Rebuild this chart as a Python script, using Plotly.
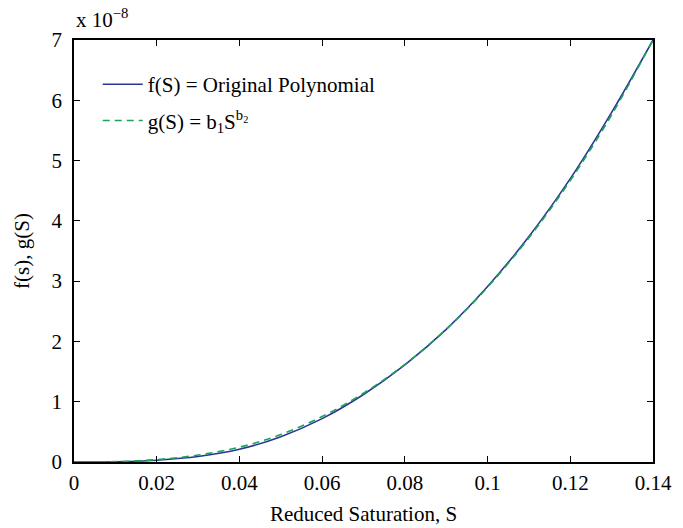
import plotly.graph_objects as go

S = [0.0, 0.01, 0.02, 0.03, 0.04, 0.05, 0.06, 0.07, 0.08, 0.09, 0.10, 0.11, 0.12, 0.13, 0.14]
f_vals = [0.0, 0.003, 0.03, 0.09, 0.21, 0.42, 0.72, 1.12, 1.61, 2.20, 2.91, 3.74, 4.70, 5.80, 7.00]
g_vals = [0.0, 0.006, 0.04, 0.115, 0.245, 0.455, 0.755, 1.14, 1.62, 2.20, 2.90, 3.72, 4.67, 5.76, 7.00]
x_ticks = [0, 0.02, 0.04, 0.06, 0.08, 0.1, 0.12, 0.14]
x_ticklabels = ["0", "0.02", "0.04", "0.06", "0.08", "0.1", "0.12", "0.14"]
y_ticks = [0, 1, 2, 3, 4, 5, 6, 7]

FONT = "Liberation Serif"
FS = 21

fig = go.Figure()
fig.add_trace(go.Scatter(x=S, y=f_vals, mode="lines", line=dict(color="#2b3593", width=1.6, shape="spline"),
                         name="f(S) = Original Polynomial", legendgroup="a"))
fig.add_trace(go.Scatter(x=S, y=g_vals, mode="lines", line=dict(color="#1aa35a", width=1.6, dash="7px,5px", shape="spline"),
                         name="g(S) = b<sub>1</sub>S<sup>b<sub>2</sub></sup>", legendgroup="b"))

axis_common = dict(showline=True, linecolor="black", linewidth=1.5, mirror="ticks", ticks="inside",
                   ticklen=6, tickcolor="black", tickwidth=1.2, showgrid=False, zeroline=False,
                   tickfont=dict(family=FONT, size=FS, color="black"),
                   automargin=False)

fig.update_xaxes(range=[0, 0.14], tickvals=x_ticks, ticktext=x_ticklabels, ticklabelstandoff=1,
                 title=dict(text="Reduced Saturation, S", font=dict(family=FONT, size=FS, color="black"), standoff=12),
                 **axis_common)
fig.update_yaxes(range=[0, 7], tickvals=y_ticks, ticklabelstandoff=6,
                 title=dict(text="f(s), g(S)", font=dict(family=FONT, size=FS, color="black"), standoff=16),
                 **axis_common)

fig.add_annotation(text="x 10<sup>\u22128</sup>", xref="paper", yref="paper", x=0.0, y=1.0,
                   xanchor="left", yanchor="bottom", yshift=6, showarrow=False,
                   font=dict(family=FONT, size=FS, color="black"))

fig.update_layout(
    width=683, height=528,
    margin=dict(l=74, r=30, t=40, b=66),
    paper_bgcolor="white", plot_bgcolor="white",
    font=dict(family=FONT, size=FS, color="black"),
    legend=dict(x=0.041, y=0.943, xanchor="left", yanchor="top", bgcolor="rgba(0,0,0,0)",
                font=dict(family=FONT, size=FS, color="black"), tracegroupgap=6,
                traceorder="grouped", itemwidth=40),
)

fig.write_html("out.html")
